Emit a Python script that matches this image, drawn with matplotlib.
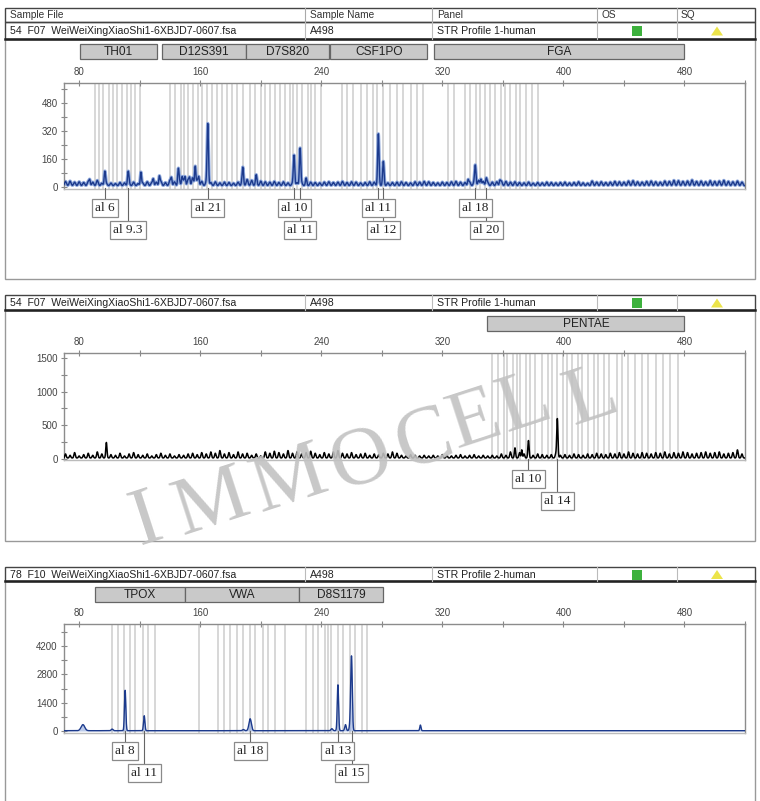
import numpy as np
import matplotlib
matplotlib.use("Agg")
import matplotlib.pyplot as plt
from matplotlib.patches import Rectangle, Polygon
from matplotlib.transforms import blended_transform_factory
from matplotlib.ticker import MultipleLocator

W, H = 760, 801

# ---------------- data ----------------
header_cols = ["Sample File", "Sample Name", "Panel", "OS", "SQ"]
sample_files = ["54  F07  WeiWeiXingXiaoShi1-6XBJD7-0607.fsa",
                "54  F07  WeiWeiXingXiaoShi1-6XBJD7-0607.fsa",
                "78  F10  WeiWeiXingXiaoShi1-6XBJD7-0607.fsa"]
sample_names = ["A498", "A498", "A498"]
panel_names = ["STR Profile 1-human", "STR Profile 1-human", "STR Profile 2-human"]

x_ticks = [80, 160, 240, 320, 400, 480]

# loci (name, start bp, end bp)
p1_loci = ["TH01", "D12S391", "D7S820", "CSF1PO", "FGA"]
p1_loci_start = [80.7, 135.0, 190.5, 246.0, 314.5]
p1_loci_end = [131.6, 190.4, 245.3, 310.0, 480.0]
p2_loci = ["PENTAE"]
p2_loci_start = [349.7]
p2_loci_end = [480.0]
p3_loci = ["TPOX", "VWA", "D8S1179"]
p3_loci_start = [90.6, 150.0, 225.5]
p3_loci_end = [150.0, 225.5, 281.0]

# bins (bp)
p1_bins = [90.5, 93, 96, 100, 102.5, 105, 108.5, 111.5, 114.5, 117, 120.5,
           140, 143.5, 147, 149.5, 152, 155.5, 158.5, 161.5, 164.5, 168, 171,
           174.5, 178, 181, 184.5, 188, 193, 196.5, 200, 203, 206, 209.5,
           213, 216, 219.5, 221, 224, 227.5, 231, 233.5, 236, 239.5,
           254, 257, 261, 266, 270, 274, 277, 281, 285.5, 290, 294, 299, 303.5, 307.5,
           324, 327.5, 335, 338.5, 342, 345, 348.5, 351.5, 355, 358.5, 361.5,
           365, 368.5, 371.5, 375, 379.5, 383]
p2_bins = [353, 357, 360.5, 363, 366.5, 369.5, 371.5, 375, 378, 381.5, 386,
           389.5, 392.5, 396, 399.5, 402.5, 406, 409.5, 412.5, 416, 420, 423,
           426.5, 430, 435.5, 439, 443, 447.5, 452, 456, 461, 465.5, 470.5, 475.5]
p3_bins = [101.8, 105.8, 109.8, 113.7, 117, 122.3, 125.6, 130.3,
           159.3, 171.9, 175.9, 179.8, 184.5, 188.4, 193.1, 196.4, 201.7, 205, 209.6, 216.2,
           230.1, 234.7, 238, 242.6, 244.6, 246.6, 251.2, 254.5, 259.2, 262.5, 267.1, 270.4]

# called alleles
p1_alleles = ["al 6", "al 9.3", "al 21", "al 10", "al 11", "al 11", "al 12", "al 18", "al 20"]
p1_allele_bp = [97, 112.4, 165, 222, 226, 277.7, 281, 341.8, 349]
p1_allele_rfu = [80, 74, 350, 171, 211, 280, 125, 110, 40]
p1_label_row = [0, 1, 0, 0, 1, 0, 1, 0, 1]

p2_alleles = ["al 10", "al 14"]
p2_allele_bp = [376.9, 396.0]
p2_allele_rfu = [210, 580]
p2_label_row = [0, 1]

p3_alleles = ["al 8", "al 11", "al 18", "al 13", "al 15"]
p3_allele_bp = [110.4, 123.0, 193.0, 251.0, 260.0]
p3_allele_rfu = [2000, 740, 590, 2270, 3360]
p3_allele_width = [0.45, 0.45, 0.8, 0.45, 0.5]
p3_label_row = [0, 1, 0, 0, 1]

# other (uncalled) peaks
p1_minor_bp = [87, 120.8, 129, 133, 141, 145.5, 148, 150, 153, 156.7, 159, 188.2, 197, 230, 337, 345.5, 358]
p1_minor_rfu = [30, 75, 35, 50, 40, 70, 45, 45, 40, 108, 45, 63, 35, 30, 30, 35, 25]
p2_minor_bp = [98, 368, 372.5]
p2_minor_rfu = [120, 90, 120]
p3_minor_bp = [82.5, 101.8, 188.5, 247.0, 256.0, 259.4, 305.5]
p3_minor_rfu = [300, 80, 60, 100, 300, 550, 280]
p3_minor_width = [1.2, 0.6, 0.6, 0.6, 0.5, 0.6, 0.4]

# baseline noise, every 3 bp from 71 to 518
noise_bp = np.arange(71, 519, 3)
p1_noise = [24, 26, 20, 22, 18, 24, 20, 30, 14, 12,
            15, 12, 18, 16, 14, 20, 12, 16, 22, 18,
            20, 25, 18, 30, 22, 40, 28, 35, 45, 30,
            25, 20, 18, 22, 16, 20, 18, 14, 20, 45,
            35, 30, 28, 26, 22, 20, 24, 18, 22, 16,
            14, 18, 16, 14, 20, 18, 16, 20, 22, 18,
            20, 24, 18, 22, 20, 16, 18, 22, 20, 18,
            14, 16, 18, 20, 22, 18, 16, 22, 20, 24,
            22, 18, 16, 20, 18, 22, 24, 20, 18, 22,
            20, 30, 24, 18, 20, 22, 26, 24, 20, 22,
            18, 16, 20, 14, 18, 16, 20, 18, 16, 18,
            20, 16, 18, 22, 16, 14, 26, 20, 22, 18,
            20, 24, 22, 20, 26, 28, 22, 20, 24, 26,
            22, 20, 26, 24, 30, 28, 24, 26, 32, 24,
            26, 22, 28, 24, 26, 30, 24, 22, 26, 20]
p2_noise = [60, 40, 80, 30, 50, 70, 40, 90, 60, 110,
            50, 40, 70, 30, 60, 80, 50, 40, 60, 30,
            50, 70, 40, 60, 30, 50, 40, 60, 70, 50,
            80, 60, 90, 70, 110, 60, 80, 50, 90, 60,
            70, 40, 60, 30, 90, 70, 100, 80, 60, 110,
            70, 90, 60, 80, 100, 70, 50, 80, 60, 90,
            110, 70, 60, 80, 50, 60, 70, 40, 60, 50,
            70, 60, 90, 70, 40, 30, 50, 40, 30, 40,
            30, 40, 30, 50, 40, 30, 40, 50, 30, 40,
            50, 30, 40, 30, 40, 30, 60, 40, 90, 60,
            80, 60, 50, 40, 60, 50, 40, 50, 60, 40,
            50, 40, 60, 50, 40, 60, 50, 70, 60, 50,
            70, 60, 80, 60, 90, 70, 60, 80, 70, 60,
            80, 70, 90, 60, 80, 70, 90, 80, 60, 70,
            80, 90, 70, 80, 90, 60, 70, 80, 120, 60]

watermark = "IMMOCELL"

# ---------------- figure ----------------
plt.rcParams['font.family'] = ['Liberation Sans', 'DejaVu Sans']
fig = plt.figure(figsize=(W / 100, H / 100), dpi=100)
fig.patch.set_facecolor("white")

ov = fig.add_axes([0, 0, 1, 1])
ov.set_xlim(0, W)
ov.set_ylim(H, 0)
ov.set_axis_off()
ov.set_zorder(5)

NAVY = "#1c3a8c"
LIGHT = "#8ea8dc"
BIN = "#d4d4d4"
BOX_EDGE = "#8a8a8a"


def draw_header(top, bottom, i, with_titles):
    if with_titles:
        t = top - 14
        ov.add_patch(Rectangle((5, t), 750, 14, fill=False, ec="#444", lw=1))
        for xc, lab in zip([10, 310, 437, 601, 681], header_cols):
            ov.text(xc, t + 7.5, lab, fontsize=7.3, color="#333", va="center")
        for xd in [305, 432, 597, 677]:
            ov.plot([xd, xd], [t, top], color="#aaa", lw=0.8)
    ov.add_patch(Rectangle((5, top), 750, bottom - top, fill=False, ec="#444", lw=1))
    ov.plot([5, 755], [bottom, bottom], color="#222", lw=1.8)
    for xd in [305, 432, 597, 677]:
        ov.plot([xd, xd], [top, bottom], color="#bbb", lw=0.8)
    yc = (top + bottom) / 2 + 0.5
    ov.text(10, yc, sample_files[i], fontsize=7.6, color="#222", va="center")
    ov.text(310, yc, sample_names[i], fontsize=7.6, color="#222", va="center")
    ov.text(437, yc, panel_names[i], fontsize=7.6, color="#222", va="center")
    ov.add_patch(Rectangle((632, yc - 5), 10, 10, color="#3db13d", lw=0))
    ov.add_patch(Polygon([[711, yc + 4.5], [723, yc + 4.5], [717, yc - 4.5]],
                         closed=True, color="#ece44a", lw=0))


def make_axes(top, bottom, ylim, yticks, yminor):
    ax = fig.add_axes([64 / W, 1 - bottom / H, (745 - 64) / W, (bottom - top) / H])
    ax.set_xlim(70, 520)
    ax.set_ylim(*ylim)
    ax.xaxis.tick_top()
    ax.set_xticks(x_ticks)
    ax.xaxis.set_minor_locator(MultipleLocator(40))
    ax.set_yticks(yticks)
    ax.yaxis.set_minor_locator(MultipleLocator(yminor))
    ax.tick_params(which="both", direction="inout", colors="#888", labelcolor="#444",
                   labelsize=7.0, pad=2, width=0.8)
    ax.tick_params(which="major", length=5)
    ax.tick_params(which="minor", length=4)
    for s in ax.spines.values():
        s.set_color("#8c8c8c")
        s.set_linewidth(1.0)
    ax.spines["bottom"].set_color("#bbb")
    return ax


def peak_sum(x, bps, hs, sigma):
    y = np.zeros_like(x)
    sig = np.broadcast_to(sigma, (len(bps),))
    for b, h, s in zip(bps, hs, sig):
        y += h * np.exp(-(x - b) ** 2 / (2 * s ** 2))
    return y


def draw_loci(ax, names, starts, ends, top):
    tr = blended_transform_factory(ax.transData, ov.transData)
    for n, s, e in zip(names, starts, ends):
        ov.add_patch(Rectangle((s, top), e - s, 15, transform=tr, fc="#c9c9c9",
                               ec="#666", lw=0.9, clip_on=False))
        ov.text((s + e) / 2, top + 8, n, transform=tr, ha="center", va="center",
                fontsize=8.6, color="#222", clip_on=False)


def draw_labels(ax, names, bps, rows, zero_px):
    tr = blended_transform_factory(ax.transData, ov.transData)
    ys = [zero_px + 20, zero_px + 42]
    for n, b, r in zip(names, bps, rows):
        ov.plot([b, b], [zero_px, ys[r]], transform=tr, color="#666", lw=0.8, zorder=1)
    for n, b, r in zip(names, bps, rows):
        ov.text(b, ys[r], n, transform=tr, ha="center", va="center",
                family="Liberation Serif", fontsize=9.5, color="#222", zorder=3,
                bbox=dict(boxstyle="square,pad=0.25", fc="white", ec=BOX_EDGE, lw=0.9))


x = np.linspace(70, 520, 9001)

# ---------- panel 1 ----------
draw_header(22, 39, 0, True)
ov.add_patch(Rectangle((5, 39), 750, 240, fill=False, ec="#999", lw=1))
ax1 = make_axes(83, 189, (-11, 594), [0, 160, 320, 480], 80)
for b in p1_bins:
    ax1.axvline(b, color=BIN, lw=1.3, zorder=0)
y1 = 8 + peak_sum(x, noise_bp, p1_noise, 0.6) \
    + peak_sum(x, p1_allele_bp, p1_allele_rfu, 0.45) \
    + peak_sum(x, p1_minor_bp, p1_minor_rfu, 0.4)
ax1.plot(x, y1, color=LIGHT, lw=2.4, zorder=2)
ax1.plot(x, y1, color=NAVY, lw=1.0, zorder=3)
draw_loci(ax1, p1_loci, p1_loci_start, p1_loci_end, 44)
draw_labels(ax1, p1_alleles, p1_allele_bp, p1_label_row, 188)

# ---------- panel 2 ----------
draw_header(295, 310, 1, False)
ov.add_patch(Rectangle((5, 310), 750, 231, fill=False, ec="#999", lw=1))
ax2 = make_axes(353, 460, (-15, 1573), [0, 500, 1000, 1500], 250)
for b in p2_bins:
    ax2.axvline(b, color=BIN, lw=1.3, zorder=0)
y2 = 15 + peak_sum(x, noise_bp, p2_noise, 0.45) \
    + peak_sum(x, p2_allele_bp, p2_allele_rfu, 0.4) \
    + peak_sum(x, p2_minor_bp, p2_minor_rfu, 0.35)
ax2.plot(x, y2, color="black", lw=1.1, zorder=3)
draw_loci(ax2, p2_loci, p2_loci_start, p2_loci_end, 316)
draw_labels(ax2, p2_alleles, p2_allele_bp, p2_label_row, 459)

# ---------- panel 3 ----------
draw_header(567, 581, 2, False)
ov.add_patch(Rectangle((5, 581), 750, 240, fill=False, ec="#999", lw=1))
ax3 = make_axes(624, 733, (-99, 5297), [0, 1400, 2800, 4200], 700)
for b in p3_bins:
    ax3.axvline(b, color=BIN, lw=1.3, zorder=0)
y3 = 15 + peak_sum(x, p3_allele_bp, p3_allele_rfu, p3_allele_width) \
    + peak_sum(x, p3_minor_bp, p3_minor_rfu, p3_minor_width)
ax3.fill_between(x, 0, y3, color=LIGHT, alpha=0.6, lw=0, zorder=2)
ax3.plot(x, y3, color=NAVY, lw=1.0, zorder=3)
draw_loci(ax3, p3_loci, p3_loci_start, p3_loci_end, 587)
draw_labels(ax3, p3_alleles, p3_allele_bp, p3_label_row, 731)

# ---------- watermark ----------
wm_pos = [(147, 522), (212, 505), (290, 482), (362, 462), (425, 441),
          (475, 422), (525, 405), (592, 398)]
for ch, (px, py) in zip(watermark, wm_pos):
    ov.text(px, py, ch, family="Liberation Serif", fontsize=60, color="#c2c2c2",
            alpha=0.9, rotation=18, ha="center", va="center", zorder=10)

fig.savefig("out.png", dpi=100)
